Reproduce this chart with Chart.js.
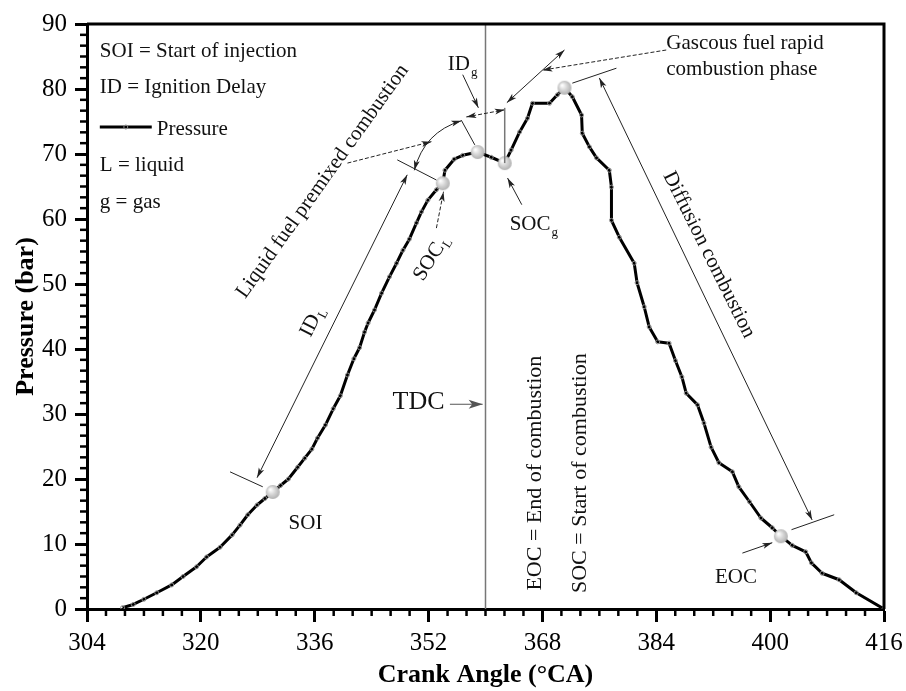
<!DOCTYPE html>
<html>
<head>
<meta charset="utf-8">
<script src="https://cdn.jsdelivr.net/npm/chart.js@4.4.0/dist/chart.umd.min.js"></script>
<style>
  html, body { margin: 0; padding: 0; background: #fff; }
  #wrap { width: 906px; height: 691px; }
</style>
</head>
<body>
<div id="wrap"><canvas id="chart" width="906" height="691"></canvas></div>
<script>
// crank angle (°CA) and cylinder pressure (bar)
const crankAngle = [309.0, 310.5, 312.0, 313.8, 315.9, 317.5, 319.4, 320.8, 322.7, 324.4, 325.5, 326.6, 327.9, 329.0, 330.1,
  331.2, 332.3, 333.6, 334.6, 335.6, 336.4, 337.5, 338.6, 339.6, 340.6, 341.5, 342.3, 343.0, 343.5, 344.4, 345.4, 346.5,
  347.5, 348.4, 349.3, 350.3, 351.0, 351.9, 353.1, 354.0, 354.3, 355.6, 356.8, 358.9, 360.8, 362.7, 363.6, 364.8, 365.9,
  366.6, 369.0, 370.1, 371.1, 372.2, 373.5, 373.6, 374.6, 375.6, 377.4, 377.7, 377.7, 378.8, 380.9, 381.3, 382.3, 383.0,
  384.2, 385.8, 386.7, 387.6, 388.2, 389.8, 390.7, 391.7, 392.8, 394.7, 395.6, 397.1, 398.7, 400.3, 401.5, 403.1, 405.0,
  405.8, 407.3, 409.7, 412.1, 416.0];
const pressure = [0.2, 0.7, 1.5, 2.5, 3.7, 5.0, 6.5, 8.0, 9.5, 11.4, 12.9, 14.5, 16.0, 17.0, 18.0,
  19.0, 20.0, 21.8, 23.2, 24.6, 26.3, 28.3, 30.8, 32.8, 36.0, 38.5, 40.2, 42.6, 44.0, 46.0, 48.6, 51.1,
  53.2, 55.2, 56.9, 59.4, 61.1, 62.9, 64.5, 65.5, 67.5, 69.2, 69.8, 70.3, 69.5, 68.6, 70.6, 73.4, 75.5,
  77.8, 77.8, 79.1, 80.2, 78.8, 76.0, 73.2, 71.1, 69.4, 67.5, 64.9, 59.8, 57.2, 53.2, 50.2, 46.5, 43.4,
  41.1, 40.9, 38.2, 35.7, 33.2, 31.4, 28.6, 24.9, 22.5, 21.1, 18.8, 16.5, 14.0, 12.5, 11.2, 9.8, 8.8,
  7.1, 5.5, 4.5, 2.5, 0.0];

// events marked with grey balls: SOI, SOC_L, premixed peak, SOC_g, peak, EOC
const eventAngle = [330.1, 354.0, 358.9, 362.7, 371.1, 401.5];
const eventPressure = [18.0, 65.5, 70.3, 68.6, 80.2, 11.2];

const xTicks = [304, 320, 336, 352, 368, 384, 400, 416];
const yTicks = [0, 10, 20, 30, 40, 50, 60, 70, 80, 90];
const tdcAngle = 360;

const SERIF = "'Liberation Serif', 'Times New Roman', serif";

// text notes, placed in data units
const notes = [
  { text: 'SOI = Start of injection', x: 305.8, y: 84.9 },
  { text: 'ID = Ignition Delay', x: 305.8, y: 79.4 },
  { text: 'Pressure', x: 313.8, y: 72.9 },
  { text: 'L = liquid', x: 305.8, y: 67.4 },
  { text: 'g = gas', x: 305.8, y: 61.7 },
  { text: 'Liquid fuel premixed combustion', x: 337.1, y: 65.8, rot: -54.5, center: true },
  { text: 'ID', sub: 'L', x: 335.7, y: 44.2, rot: -63, center: true },
  { text: 'SOC', sub: 'L', x: 352.4, y: 54.0, rot: -58, center: true },
  { text: 'SOI', x: 334.7, y: 13.2, center: true },
  { text: 'TDC', x: 350.6, y: 31.85, center: true, size: 26 },
  { text: 'ID', sub: 'g', x: 354.7, y: 82.9 },
  { text: 'SOC', sub: 'g', x: 363.4, y: 58.3 },
  { text: 'Gascous fuel rapid', x: 385.4, y: 86.2 },
  { text: 'combustion phase', x: 385.4, y: 82.1 },
  { text: 'Diffusion combustion', x: 391.4, y: 54.5, rot: 63.5, center: true },
  { text: 'EOC', x: 395.2, y: 4.8, center: true },
  { text: 'EOC = End of combustion', x: 367.0, y: 20.9, rot: -90, center: true, size: 22 },
  { text: 'SOC = Start of combustion', x: 373.3, y: 20.9, rot: -90, center: true, size: 22 }
];

// guide lines and arrows, in data units
const guides = [
  { from: [327.9, 20.2], to: [349.0, 66.8], heads: 'both' },            // ID_L
  { from: [324.1, 21.1], to: [328.7, 18.8] },
  { from: [347.6, 69.1], to: [353.1, 66.0] },
  { from: [350.0, 67.5], ctrl: [351.4, 73.4], to: [356.6, 75.1], heads: 'both' },
  { from: [340.6, 68.6], to: [352.4, 71.9], heads: 'end', dash: true },
  { from: [356.6, 75.2], to: [358.5, 71.4] },
  { from: [357.3, 75.7], to: [362.7, 76.8], heads: 'both', dash: true }, // ID_g
  { from: [356.8, 82.2], to: [359.0, 77.1], heads: 'end' },
  { from: [362.7, 68.6], to: [362.7, 77.1], color: '#777', width: 1.5 },
  { from: [363.0, 77.9], to: [371.1, 86.0], heads: 'both' },
  { from: [385.4, 86.0], to: [368.0, 82.9], heads: 'end', dash: true },
  { from: [372.2, 80.9], to: [378.4, 83.2] },
  { from: [376.0, 81.7], to: [405.9, 13.7], heads: 'both' },            // diffusion
  { from: [403.0, 12.2], to: [409.0, 14.5] },
  { from: [396.1, 8.6], to: [400.3, 10.2], heads: 'end' },
  { from: [353.1, 58.6], to: [354.1, 64.2], heads: 'end', dash: true },
  { from: [365.1, 62.2], to: [363.1, 66.3], heads: 'end' },
  { from: [355.0, 31.5], to: [359.6, 31.5], heads: 'end', big: true, color: '#555' }
];

function ball(r) {
  const c = document.createElement('canvas');
  c.width = c.height = 2 * r + 2;
  const g = c.getContext('2d');
  const grd = g.createRadialGradient(r - 1.5, r - 1.5, 0.5, r + 1, r + 1, r + 1);
  grd.addColorStop(0, '#ffffff');
  grd.addColorStop(0.45, '#d6d6d6');
  grd.addColorStop(1, '#a9a9a9');
  g.fillStyle = grd;
  g.beginPath();
  g.arc(r + 1, r + 1, r, 0, Math.PI * 2);
  g.fill();
  return c;
}

function head(ctx, x, y, ang, big) {
  const len = big ? 14 : 10, w = big ? 4.5 : 3;
  ctx.save();
  ctx.translate(x, y);
  ctx.rotate(ang);
  ctx.setLineDash([]);
  ctx.beginPath();
  ctx.moveTo(0, 0);
  ctx.lineTo(-len, -w);
  ctx.lineTo(-len * 0.75, 0);
  ctx.lineTo(-len, w);
  ctx.closePath();
  ctx.fill();
  ctx.restore();
}

const annotate = {
  id: 'annotate',
  afterDraw(chart) {
    const { ctx, chartArea: a, scales: { x: sx, y: sy } } = chart;
    const P = (p) => [sx.getPixelForValue(p[0]), sy.getPixelForValue(p[1])];

    // minor ticks
    ctx.save();
    ctx.strokeStyle = '#000';
    ctx.lineWidth = 2.5;
    for (let i = 0; i < xTicks.length - 1; i++) {
      for (let k = 1; k < 6; k++) {
        const px = sx.getPixelForValue(xTicks[i] + (xTicks[i + 1] - xTicks[i]) * k / 6);
        ctx.beginPath(); ctx.moveTo(px, a.bottom); ctx.lineTo(px, a.bottom + 7); ctx.stroke();
      }
    }
    for (let i = 0; i < yTicks.length - 1; i++) {
      for (let k = 1; k < 6; k++) {
        const py = sy.getPixelForValue(yTicks[i] + (yTicks[i + 1] - yTicks[i]) * k / 6);
        ctx.beginPath(); ctx.moveTo(a.left - 7, py); ctx.lineTo(a.left, py); ctx.stroke();
      }
    }
    // frame top and right
    ctx.lineWidth = 3;
    ctx.beginPath();
    ctx.moveTo(a.left, a.top); ctx.lineTo(a.right, a.top); ctx.lineTo(a.right, a.bottom);
    ctx.stroke();
    ctx.restore();

    // guides
    guides.forEach(g => {
      const [x1, y1] = P(g.from), [x2, y2] = P(g.to);
      ctx.save();
      ctx.strokeStyle = g.color || '#222';
      ctx.fillStyle = g.color || '#222';
      ctx.lineWidth = g.width || 1;
      if (g.dash) ctx.setLineDash([4, 2]);
      ctx.beginPath();
      ctx.moveTo(x1, y1);
      let a1, a2;
      if (g.ctrl) {
        const [cx, cy] = P(g.ctrl);
        ctx.quadraticCurveTo(cx, cy, x2, y2);
        a1 = Math.atan2(y1 - cy, x1 - cx);
        a2 = Math.atan2(y2 - cy, x2 - cx);
      } else {
        ctx.lineTo(x2, y2);
        a1 = Math.atan2(y1 - y2, x1 - x2);
        a2 = Math.atan2(y2 - y1, x2 - x1);
      }
      ctx.stroke();
      if (g.heads === 'end' || g.heads === 'both') head(ctx, x2, y2, a2, g.big);
      if (g.heads === 'both') head(ctx, x1, y1, a1, g.big);
      ctx.restore();
    });

    // legend sample line
    const l1 = P([305.8, 74.15]), l2 = P([313.1, 74.15]);
    ctx.save();
    ctx.strokeStyle = '#000';
    ctx.lineWidth = 3;
    ctx.beginPath(); ctx.moveTo(l1[0], l1[1]); ctx.lineTo(l2[0], l2[1]); ctx.stroke();
    ctx.strokeStyle = '#888'; ctx.lineWidth = 1;
    ctx.beginPath(); ctx.arc((l1[0] + l2[0]) / 2, l1[1], 2, 0, Math.PI * 2); ctx.stroke();
    ctx.restore();

    // notes
    notes.forEach(n => {
      const [px, py] = P([n.x, n.y]);
      const size = n.size || 21;
      ctx.save();
      ctx.translate(px, py);
      if (n.rot) ctx.rotate(n.rot * Math.PI / 180);
      ctx.fillStyle = '#111';
      ctx.font = size + 'px ' + SERIF;
      ctx.textAlign = 'left';
      ctx.textBaseline = n.center ? 'middle' : 'alphabetic';
      const w = ctx.measureText(n.text).width;
      let sw = 0;
      const subFont = Math.round(size * 0.6) + 'px ' + SERIF;
      if (n.sub) { ctx.font = subFont; sw = ctx.measureText(n.sub).width + 1; ctx.font = size + 'px ' + SERIF; }
      const x0 = n.center ? -(w + sw) / 2 : 0;
      ctx.fillText(n.text, x0, 0);
      if (n.sub) { ctx.font = subFont; ctx.fillText(n.sub, x0 + w + 1, size * 0.3); }
      ctx.restore();
    });
  }
};

const ctx = document.getElementById('chart');
new Chart(ctx, {
  type: 'line',
  data: {
    datasets: [
      {
        label: 'Events',
        type: 'scatter',
        data: eventAngle.map((v, i) => ({ x: v, y: eventPressure[i] })),
        pointStyle: ball(7),
        pointRadius: 7,
        showLine: false,
        order: 0
      },
      {
        label: 'Pressure',
        data: crankAngle.map((v, i) => ({ x: v, y: pressure[i] })),
        borderColor: '#000',
        borderWidth: 3,
        borderJoinStyle: 'round',
        tension: 0,
        pointRadius: 2,
        pointBackgroundColor: 'rgba(255,255,255,0)',
        pointBorderColor: '#8a8a8a',
        pointBorderWidth: 1,
        order: 1
      },
      {
        label: 'TDC',
        data: [{ x: tdcAngle, y: yTicks[0] }, { x: tdcAngle, y: yTicks[yTicks.length - 1] }],
        borderColor: '#777',
        borderWidth: 1.5,
        pointRadius: 0,
        order: 2
      }
    ]
  },
  options: {
    responsive: false,
    animation: false,
    layout: { padding: { top: 24, right: 22, left: 0, bottom: 0 } },
    plugins: { legend: { display: false }, tooltip: { enabled: false } },
    scales: {
      x: {
        type: 'linear',
        min: xTicks[0],
        max: xTicks[xTicks.length - 1],
        afterBuildTicks: s => { s.ticks = xTicks.map(v => ({ value: v })); },
        afterFit: s => { s.height = 82; s.paddingLeft = 0; s.paddingRight = 0; },
        grid: { drawOnChartArea: false, tickLength: 13, tickWidth: 3, tickColor: '#000' },
        border: { color: '#000', width: 3 },
        ticks: { color: '#000', padding: 6, maxRotation: 0, font: { family: SERIF, size: 25 } },
        title: {
          display: true, text: 'Crank Angle (°CA)', color: '#000',
          padding: { top: 0, bottom: 0 },
          font: { family: SERIF, size: 26, weight: 'bold' }
        }
      },
      y: {
        min: yTicks[0],
        max: yTicks[yTicks.length - 1],
        afterBuildTicks: s => { s.ticks = yTicks.map(v => ({ value: v })); },
        afterFit: s => { s.width = 87; s.paddingTop = 0; s.paddingBottom = 0; },
        grid: { drawOnChartArea: false, tickLength: 12, tickWidth: 3, tickColor: '#000' },
        border: { color: '#000', width: 3 },
        ticks: { color: '#000', padding: 8, font: { family: SERIF, size: 25 } },
        title: {
          display: true, text: 'Pressure (bar)', color: '#000',
          padding: { top: 11, bottom: 0 },
          font: { family: SERIF, size: 26, weight: 'bold' }
        }
      }
    }
  },
  plugins: [annotate]
});
</script>
</body>
</html>
